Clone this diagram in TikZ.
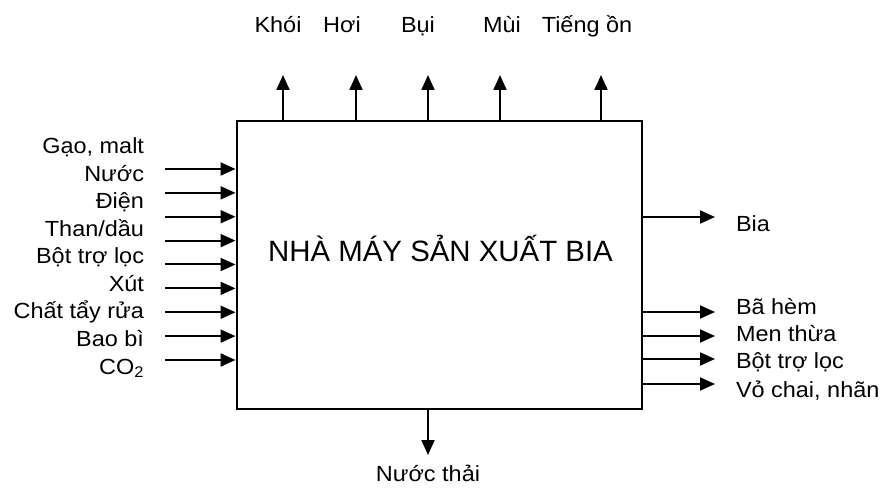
\documentclass[tikz,border=0pt]{standalone}
\usepackage{fontspec}
\setmainfont{Liberation Sans}
\newfontfamily\labfont[FakeStretch=1.07]{Liberation Sans}
\usetikzlibrary{positioning,arrows.meta}

\begin{document}
\begin{tikzpicture}[x=1bp, y=-1bp, line width=2bp,
    flow/.style={-{Triangle[length=15bp,width=13bp]}},
    lbl/.style={font=\labfont\fontsize{22}{26}\selectfont, inner sep=0pt}]
    \useasboundingbox (0,0) rectangle (883,490);
    \node[draw, minimum width=405bp, minimum height=288bp, inner sep=0pt] (plant) at (439,265) {};
    \node[anchor=base, font=\fontsize{29.5}{35}\selectfont] (title) at (440.5,262) {NHÀ MÁY SẢN XUẤT BIA};

    % inputs
    \foreach \txt [count=\i from 0] in {{Gạo, malt}, Nước, Điện, Than/dầu, Bột trợ lọc, Xút, Chất tẩy rửa, Bao bì, CO\textsubscript{2}}
        \node[lbl, anchor=base east] (in\i) at (145, {154+27.5*\i}) {\txt};
    \foreach \i in {0,...,8} {
        \coordinate (src\i) at (165, {169+23.875*\i});
        \draw[flow] (src\i) -- (src\i -| plant.west);
    }

    % emissions
    \foreach \x/\txt [count=\n] in {278/Khói, 342/Hơi, 418/Bụi, 502/Mùi, 587/Tiếng ồn}
        \node[lbl, anchor=base] (emit\n) at (\x,33) {\txt};
    \foreach \x [count=\n] in {283,356,428,500,601} {
        \coordinate (air\n) at (\x,75);
        \draw[flow] (air\n |- plant.north) -- (air\n);
    }

    % products
    \coordinate (beer) at (715,217);
    \draw[flow] (beer -| plant.east) -- (beer);
    \node[lbl, anchor=base west] (bia) at (735,232) {Bia};
    \foreach \y/\yb/\txt [count=\n] in {312/315/Bã hèm, 336/341.5/Men thừa, 359/368/Bột trợ lọc, 384/397/{Vỏ chai, nhãn}} {
        \coordinate (waste\n) at (715,\y);
        \draw[flow] (waste\n -| plant.east) -- (waste\n);
        \node[lbl, anchor=base west] (out\n) at (735,\yb) {\txt};
    }

    % waste water
    \coordinate (drain) at (428,455);
    \draw[flow] (drain |- plant.south) -- (drain);
    \node[lbl, anchor=base] (water) at (428,481) {Nước thải};
\end{tikzpicture}
\end{document}
